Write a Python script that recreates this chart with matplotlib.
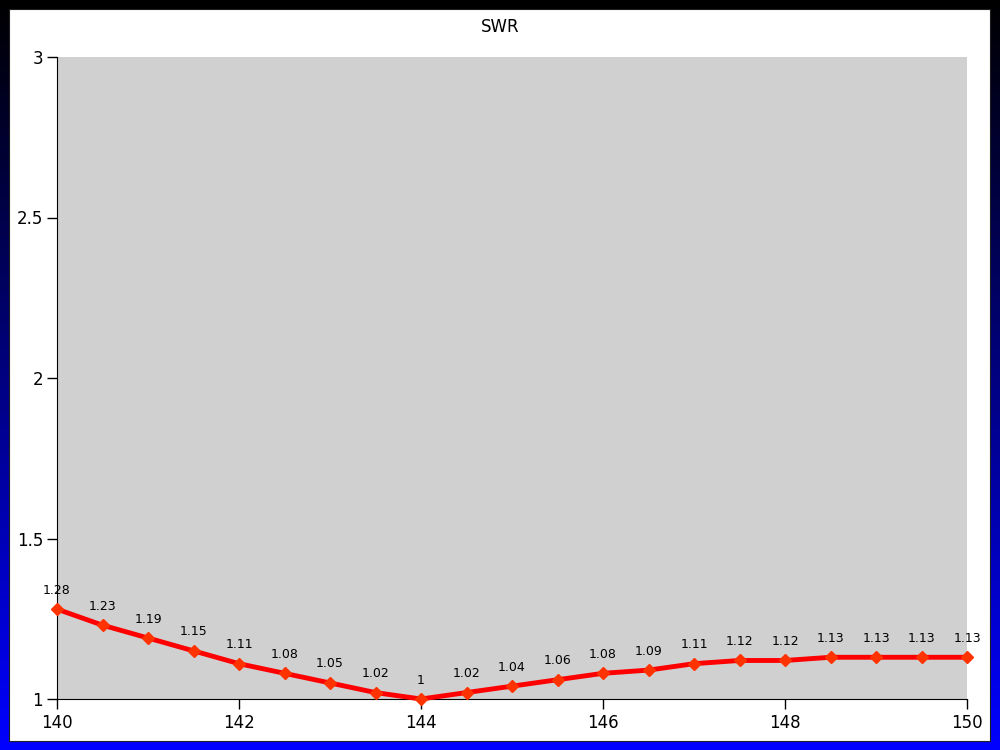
import numpy as np
import matplotlib.pyplot as plt
from matplotlib.patches import Rectangle

freq = [140, 140.5, 141, 141.5, 142, 142.5, 143, 143.5, 144, 144.5, 145,
        145.5, 146, 146.5, 147, 147.5, 148, 148.5, 149, 149.5, 150]
swr = [1.28, 1.23, 1.19, 1.15, 1.11, 1.08, 1.05, 1.02, 1, 1.02, 1.04,
       1.06, 1.08, 1.09, 1.11, 1.12, 1.12, 1.13, 1.13, 1.13, 1.13]
x_ticks = [140, 142, 144, 146, 148, 150]
y_ticks = [1, 1.5, 2, 2.5, 3]

fig = plt.figure(figsize=(10, 7.5), dpi=100)

# gradient frame, black at top to blue at bottom
bg = fig.add_axes([0, 0, 1, 1])
cols = np.zeros((256, 1, 3))
cols[:, 0, 2] = np.linspace(1, 0, 256)
bg.imshow(cols, aspect="auto", extent=[0, 1, 0, 1], origin="lower")
bg.set_axis_off()
bg.add_patch(Rectangle((9 / 1000, 9 / 750), 981 / 1000, 732 / 750,
                       transform=fig.transFigure, facecolor="white",
                       edgecolor="#202020", linewidth=0.8))

ax = fig.add_axes([57 / 1000, 51 / 750, 910 / 1000, 642 / 750])
ax.set_facecolor("#d0d0d0")
ax.plot(freq, swr, color="red", linewidth=3.5, zorder=3, clip_on=False)
ax.plot(freq, swr, "D", color="#ff3300", markersize=6, zorder=4, clip_on=False)
for f, s in zip(freq, swr):
    ax.annotate(f"{s:g}", (f, s), xytext=(0, 9), textcoords="offset points",
                ha="center", va="bottom", fontsize=9)

ax.set_xlim(140, 150)
ax.set_ylim(1, 3)
ax.set_xticks(x_ticks)
ax.set_yticks(y_ticks)
ax.set_yticklabels([f"{v:g}" for v in y_ticks])
ax.tick_params(axis="x", labelsize=12, length=7, width=1, pad=4)
ax.tick_params(axis="y", labelsize=12, length=7.5, width=1, pad=2.5)
ax.spines["top"].set_visible(False)
ax.spines["right"].set_visible(False)
fig.text(0.5, 1 - 27 / 750, "SWR", ha="center", va="center", fontsize=12)

fig.savefig("out.png", dpi=100)
